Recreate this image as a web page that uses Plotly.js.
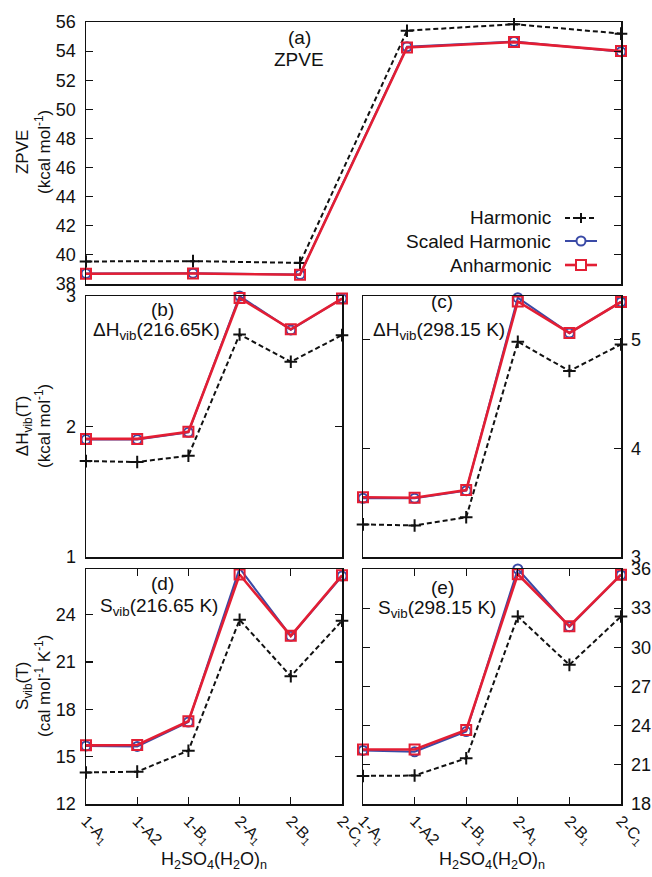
<!DOCTYPE html>
<html><head><meta charset="utf-8">
<script src="https://cdn.plot.ly/plotly-3.0.1.min.js"></script>
<style>html,body{margin:0;padding:0;background:#fff}#chart{width:652px;height:877px}</style>
</head><body><div id="chart"></div>
<script>
// ---- data ----
const categories = ['1-A<sub>1</sub>', '1-A2', '1-B<sub>1</sub>', '2-A<sub>1</sub>', '2-B<sub>1</sub>', '2-C<sub>1</sub>'];
const seriesNames = ['Harmonic', 'Scaled Harmonic', 'Anharmonic'];

const zpveHarm   = [39.55, 39.57, 39.45, 55.40, 55.85, 55.20];
const zpveScaled = [38.72, 38.74, 38.66, 54.30, 54.66, 53.95];
const zpveAnharm = [38.70, 38.72, 38.64, 54.25, 54.62, 54.00];

const hvib216Harm   = [1.735, 1.728, 1.776, 2.705, 2.496, 2.700];
const hvib216Scaled = [1.900, 1.900, 1.955, 3.000, 2.740, 2.980];
const hvib216Anharm = [1.905, 1.905, 1.960, 2.985, 2.745, 2.980];

const hvib298Harm   = [3.300, 3.290, 3.365, 4.980, 4.710, 4.955];
const hvib298Scaled = [3.540, 3.540, 3.610, 5.385, 5.060, 5.345];
const hvib298Anharm = [3.550, 3.545, 3.615, 5.350, 5.060, 5.345];

const svib216Harm   = [14.00, 14.05, 15.38, 23.68, 20.10, 23.62];
const svib216Scaled = [15.68, 15.65, 17.20, 26.95, 22.64, 26.45];
const svib216Anharm = [15.72, 15.74, 17.25, 26.55, 22.66, 26.50];

const svib298Harm   = [20.15, 20.18, 21.50, 32.36, 28.66, 32.36];
const svib298Scaled = [22.10, 22.00, 23.55, 36.00, 31.58, 35.55];
const svib298Anharm = [22.18, 22.18, 23.67, 35.60, 31.62, 35.56];

const zpveTicks = [38, 40, 42, 44, 46, 48, 50, 52, 54, 56];
const hvib216Ticks = [1, 2, 3];
const hvib298Ticks = [3, 4, 5];
const svib216Ticks = [12, 15, 18, 21, 24];
const svib298Ticks = [18, 21, 24, 27, 30, 33, 36];

// ---- styles ----
const W = 652, H = 877;
const px = v => v / W;
const py = v => 1 - v / H;
const FONT = 'Liberation Sans, Arial, Helvetica, sans-serif';
const BLACK = '#111111', BLUE = '#3a4aa6', RED = '#e31e34';

const styles = [
  {line: {color: BLACK, width: 2, dash: '5px,3px'}, marker: {symbol: 'cross-thin', size: 9, color: BLACK, line: {color: BLACK, width: 2}}},
  {line: {color: BLUE, width: 2}, marker: {symbol: 'circle-open', size: 9, color: BLUE, line: {color: BLUE, width: 2}}},
  {line: {color: RED, width: 2.6}, marker: {symbol: 'square-open', size: 10, color: RED, line: {color: RED, width: 2}}}
];

const panels = [
  {xa: 'x',  ya: 'y',  sets: [zpveHarm, zpveScaled, zpveAnharm]},
  {xa: 'x2', ya: 'y2', sets: [hvib216Harm, hvib216Scaled, hvib216Anharm]},
  {xa: 'x3', ya: 'y3', sets: [hvib298Harm, hvib298Scaled, hvib298Anharm]},
  {xa: 'x4', ya: 'y4', sets: [svib216Harm, svib216Scaled, svib216Anharm]},
  {xa: 'x5', ya: 'y5', sets: [svib298Harm, svib298Scaled, svib298Anharm]}
];

const traces = [];
panels.forEach(p => {
  p.sets.forEach((vals, i) => {
    traces.push(Object.assign({
      type: 'scatter', mode: 'lines+markers', x: categories, y: vals,
      xaxis: p.xa, yaxis: p.ya, name: seriesNames[i], showlegend: false,
      cliponaxis: false
    }, JSON.parse(JSON.stringify(styles[i]))));
  });
});

const axBase = {
  showline: true, linecolor: BLACK, linewidth: 1.5, mirror: 'allticks',
  ticks: 'inside', ticklen: 7, tickwidth: 1.2, tickcolor: BLACK,
  showgrid: false, zeroline: false, automargin: false,
  tickfont: {family: FONT, size: 18, color: BLACK}
};
const xCat = (dom, anchor, labels) => Object.assign({}, axBase, {
  domain: dom, anchor: anchor, type: 'category', range: [0, 5],
  showticklabels: labels, ticks: labels ? 'inside' : '',
  tickangle: 45, tickfont: {family: FONT, size: 16, color: BLACK}
});
const yAx = (dom, anchor, range, tickvals, side) => Object.assign({}, axBase, {
  domain: dom, anchor: anchor, range: range, tickvals: tickvals, side: side || 'left',
  ticklabelstandoff: 5
});

const xL = [px(86), px(342)], xR = [px(363), px(621)], xT = [px(86), px(621)];
const yA = [py(284), py(22)], yB = [py(557), py(296)], yD = [py(804), py(569)];

const layout = {
  width: W, height: H, margin: {l: 0, r: 0, t: 0, b: 0},
  paper_bgcolor: '#fff', plot_bgcolor: '#fff', showlegend: false,
  font: {family: FONT, color: BLACK},
  xaxis:  xCat(xT, 'y', false),
  yaxis:  yAx(yA, 'x', [38, 56], zpveTicks),
  xaxis2: xCat(xL, 'y2', false),
  yaxis2: yAx(yB, 'x2', [1, 3], hvib216Ticks),
  xaxis3: xCat(xR, 'y3', false),
  yaxis3: yAx(yB, 'x3', [3, 5.4], hvib298Ticks, 'right'),
  xaxis4: xCat(xL, 'y4', true),
  yaxis4: yAx(yD, 'x4', [12, 26.9], svib216Ticks),
  xaxis5: xCat(xR, 'y5', true),
  yaxis5: yAx(yD, 'x5', [18, 36], svib298Ticks, 'right'),
  annotations: [],
  shapes: []
};

const ann = (text, x, y, opts) => Object.assign({
  text: text, x: x, y: y, xref: 'paper', yref: 'paper', showarrow: false,
  xanchor: 'center', yanchor: 'middle', font: {family: FONT, size: 19, color: BLACK}
}, opts || {});

// panel labels
layout.annotations.push(ann('(a)', px(299), py(38)));
layout.annotations.push(ann('ZPVE', px(299), py(59)));
layout.annotations.push(ann('(b)', px(162), py(309)));
layout.annotations.push(ann('ΔH<sub>vib</sub>(216.65K)', px(91), py(331), {xanchor: 'left'}));
layout.annotations.push(ann('(c)', px(442), py(302)));
layout.annotations.push(ann('ΔH<sub>vib</sub>(298.15 K)', px(371), py(331), {xanchor: 'left'}));
layout.annotations.push(ann('(d)', px(162), py(583)));
layout.annotations.push(ann('S<sub>vib</sub>(216.65 K)', px(98), py(607), {xanchor: 'left'}));
layout.annotations.push(ann('(e)', px(442), py(587)));
layout.annotations.push(ann('S<sub>vib</sub>(298.15 K)', px(376), py(609), {xanchor: 'left'}));

// axis titles
const yTitleFont = {family: FONT, size: 17, color: BLACK};
layout.annotations.push(ann('ZPVE<br>(kcal mol<sup>-1</sup>)', px(33), py(152), {textangle: -90, font: yTitleFont}));
layout.annotations.push(ann('ΔH<sub>vib</sub>(T)<br>(kcal mol<sup>-1</sup>)', px(33), py(426), {textangle: -90, font: yTitleFont}));
layout.annotations.push(ann('S<sub>vib</sub>(T)<br>(cal mol<sup>-1</sup> K<sup>-1</sup>)', px(33), py(686), {textangle: -90, font: yTitleFont}));
const xTitle = 'H<sub>2</sub>SO<sub>4</sub>(H<sub>2</sub>O)<sub>n</sub>';
layout.annotations.push(ann(xTitle, px(214), py(860), {font: {family: FONT, size: 18, color: BLACK}}));
layout.annotations.push(ann(xTitle, px(492), py(860), {font: {family: FONT, size: 18, color: BLACK}}));

// manual legend (text on the left, sample on the right)
const legRows = [218, 241, 265];
seriesNames.forEach((nm, i) => {
  const yy = py(legRows[i]);
  layout.annotations.push(ann(nm, px(553), yy, {xanchor: 'right'}));
  const st = styles[i];
  layout.shapes.push({type: 'line', xref: 'paper', yref: 'paper', x0: px(565), x1: px(597), y0: yy, y1: yy,
    line: {color: st.line.color, width: st.line.width, dash: st.line.dash || 'solid'}});
  const base = {xref: 'paper', yref: 'paper', xsizemode: 'pixel', ysizemode: 'pixel', xanchor: px(581), yanchor: yy};
  if (i === 0) {
    layout.shapes.push(Object.assign({type: 'line', x0: -5, x1: 5, y0: 0, y1: 0, line: {color: BLACK, width: 2}}, base));
    layout.shapes.push(Object.assign({type: 'line', x0: 0, x1: 0, y0: -5, y1: 5, line: {color: BLACK, width: 2}}, base));
  } else if (i === 1) {
    layout.shapes.push(Object.assign({type: 'circle', x0: -4.5, x1: 4.5, y0: -4.5, y1: 4.5, fillcolor: '#fff', line: {color: BLUE, width: 2}}, base));
  } else {
    layout.shapes.push(Object.assign({type: 'rect', x0: -5, x1: 5, y0: -5, y1: 5, fillcolor: '#fff', line: {color: RED, width: 2}}, base));
  }
});

Plotly.newPlot('chart', traces, layout, {staticPlot: true, displayModeBar: false});
</script>
</body></html>
